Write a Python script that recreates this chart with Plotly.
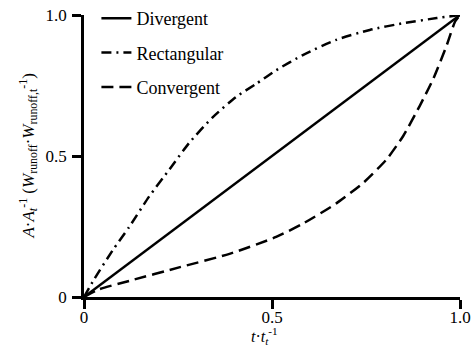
import plotly.graph_objects as go

# Data
div_x = [0.0, 1.0]
div_y = [0.0, 1.0]

rect_x = [0.0, 0.027, 0.076, 0.12, 0.173, 0.227, 0.28, 0.342, 0.404, 0.458, 0.511, 0.582, 0.671, 0.76, 0.849, 0.938, 1.0]
rect_y = [0.0, 0.063, 0.165, 0.248, 0.356, 0.452, 0.547, 0.637, 0.709, 0.756, 0.804, 0.858, 0.912, 0.947, 0.971, 0.989, 1.0]

conv_x = [0.0, 0.04, 0.12, 0.253, 0.387, 0.511, 0.582, 0.671, 0.742, 0.804, 0.849, 0.893, 0.929, 0.965, 0.987, 1.0]
conv_y = [0.0, 0.027, 0.057, 0.105, 0.153, 0.213, 0.26, 0.332, 0.404, 0.487, 0.571, 0.678, 0.774, 0.894, 0.977, 1.0]

names = ["Divergent", "Rectangular", "Convergent"]
tick_vals = [0, 0.5, 1.0]
tick_text = ["0", "0.5", "1.0"]

FONT = "Liberation Serif, Times New Roman, serif"

fig = go.Figure()
fig.add_trace(go.Scatter(x=div_x, y=div_y, mode="lines", name=names[0], legendgroup="a",
                         line=dict(color="black", width=2.5, dash="solid")))
fig.add_trace(go.Scatter(x=rect_x, y=rect_y, mode="lines", name=names[1], legendgroup="b",
                         line=dict(color="black", width=2.5, dash="10px,5px,2px,5px", shape="spline", smoothing=0.6)))
fig.add_trace(go.Scatter(x=conv_x, y=conv_y, mode="lines", name=names[2], legendgroup="c",
                         line=dict(color="black", width=2.5, dash="12px,6px", shape="spline", smoothing=0.6)))

axis_common = dict(range=[0, 1], tickvals=tick_vals, ticktext=tick_text, showline=True,
                   linecolor="black", linewidth=2.5, ticks="outside", ticklen=9, tickwidth=2.5,
                   tickcolor="black", showgrid=False, zeroline=False, automargin=False,
                   tickfont=dict(family=FONT, size=17, color="black"))

fig.update_layout(
    width=476, height=347,
    margin=dict(l=84, r=16, t=15, b=50, autoexpand=False),
    paper_bgcolor="white", plot_bgcolor="white",
    xaxis=dict(axis_common, ticklabelstandoff=-6),
    yaxis=dict(axis_common, ticklabelstandoff=2),
    showlegend=True,
    legend=dict(x=0.033, y=1.0, xanchor="left", yanchor="top", yref="container",
                bgcolor="rgba(0,0,0,0)",
                font=dict(family=FONT, size=18, color="black"), tracegroupgap=8),
    annotations=[
        dict(text="<i>A</i>·<i>A<sub>t</sub></i><sup>-1</sup> (<i>W</i><sub>runoff</sub>·<i>W</i><sub>runoff,t</sub><sup>-1</sup>)",
             xref="paper", yref="paper", x=-0.15, y=0.5, xanchor="center", yanchor="middle",
             textangle=-90, showarrow=False, font=dict(family=FONT, size=17, color="black")),
        dict(text="<i>t</i>·<i>t<sub>t</sub></i><sup>-1</sup>",
             xref="paper", yref="paper", x=0.481, y=-0.139, xanchor="center", yanchor="middle",
             showarrow=False, font=dict(family=FONT, size=16, color="black")),
    ],
)

fig.write_html("out.html")
